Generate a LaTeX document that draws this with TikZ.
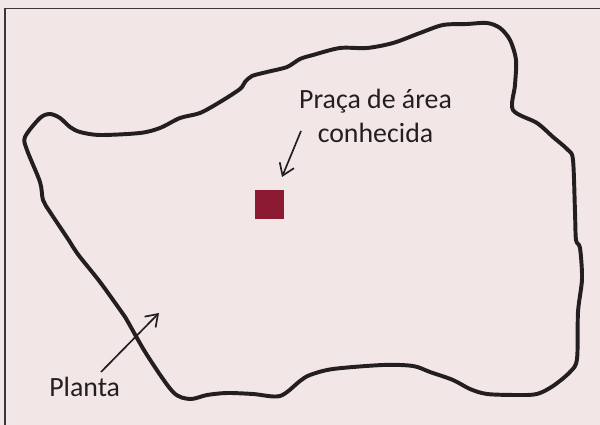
\documentclass[tikz,border=0pt]{standalone}
\usepackage{fontspec}
\setmainfont{Carlito}
\usetikzlibrary{arrows.meta}
\definecolor{fundo}{RGB}{243,230,230}
\definecolor{tinta}{RGB}{35,31,32}
\definecolor{vinho}{RGB}{140,26,51}
\definecolor{moldura}{RGB}{60,55,56}

\begin{document}
\begin{tikzpicture}[x=0.025cm, y=-0.025cm,
    contorno/.style={line width=2.8pt, tinta, line join=round},
    seta/.style={-{Straight Barb[length=8pt,width=11pt]}, line width=1.2pt, tinta},
    rotulo/.style={inner sep=0pt, text=tinta, font=\fontsize{19.8}{24.2}\selectfont}]
    \useasboundingbox (0,0) rectangle (600,425);
    \fill[fundo] (0,0) rectangle (600,425);
    \draw[moldura, line width=1pt] (5,8.5) rectangle (620,440);

    % contorno da planta
    \draw[contorno] plot[smooth cycle, tension=0.5] coordinates {
        (25,137) (40,118) (50,114) (60,118) (70,127) (80,132) (100,135)
        (140,133) (160,128) (180,118) (200,113) (220,102) (240,89) (245,82)
        (252,76) (267,72) (287,67) (300,59) (313,55) (340,48) (367,48)
        (393,43) (420,33) (443,25) (467,24) (487,23) (500,28) (510,40)
        (516,60) (515,85) (513,110) (537,123) (553,137) (568,150) (573,160)
        (575,212) (576,240) (580,248) (582,279) (578,312) (577,359) (570,372)
        (553,386) (537,394) (517,395) (487,394) (470,389) (453,380) (430,372)
        (413,366) (383,365) (333,369) (310,375) (300,381) (280,396) (253,394)
        (227,393) (207,395) (190,399) (173,392) (147,355) (128,322) (123,314)
        (100,282) (80,257) (73,247) (68,239) (50,212) (43,200) (40,182) (27,150)};

    % praca de area conhecida
    \node (quadrado) [fill=vinho, minimum size=0.725cm, inner sep=0pt] at (269.5,204.5) {};
    \node (textopraca) [rotulo, align=center, anchor=base] at (375.5,143) {Praça de área\\conhecida};
    \coordinate (pracainicio) at (301,131);
    \coordinate (pracafim) at (282,177);
    \draw[seta] (pracainicio) -- (pracafim);

    % planta
    \node (textoplanta) [rotulo, anchor=base west] at (49,397) {Planta};
    \coordinate (plantainicio) at (101,372);
    \coordinate (plantafim) at (159,313);
    \draw[seta] (plantainicio) -- (plantafim);
\end{tikzpicture}
\end{document}
